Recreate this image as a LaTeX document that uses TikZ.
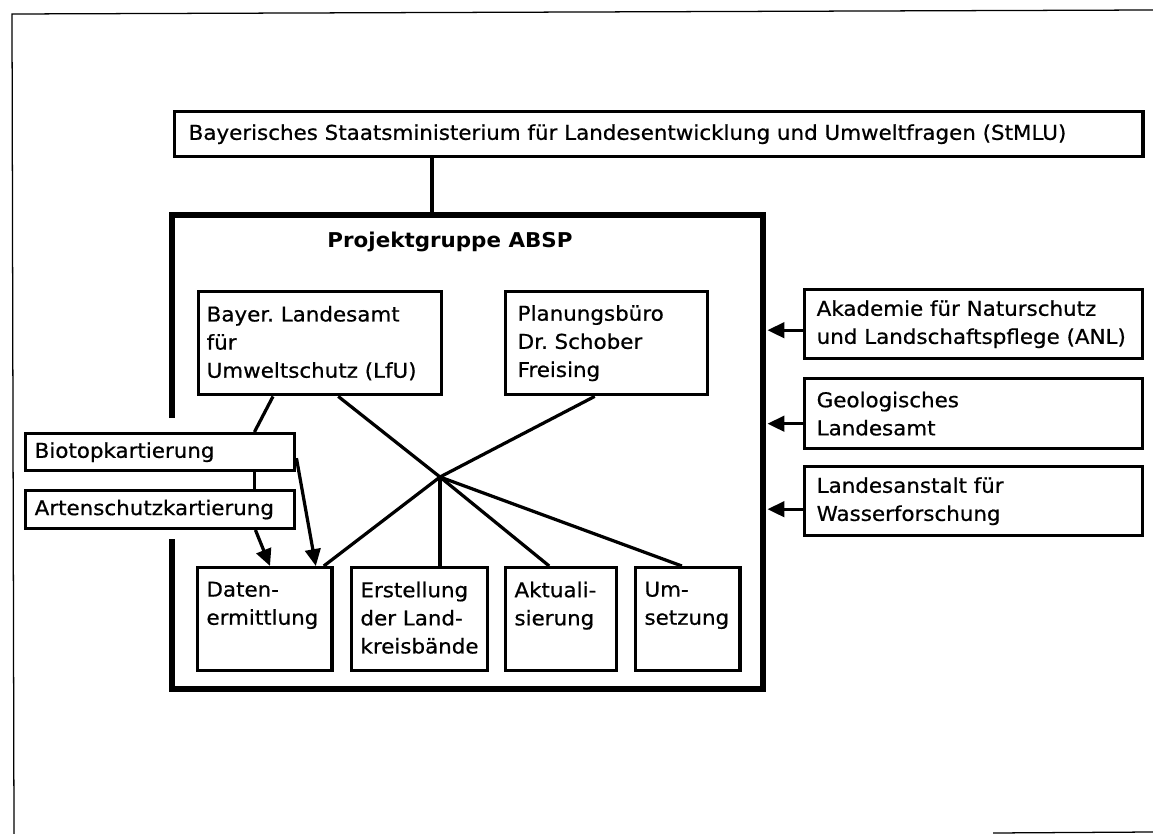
\documentclass[tikz,border=0pt]{standalone}
\usepackage{fontspec}
\setmainfont{DejaVu Sans}[FakeStretch=1.05, UprightFeatures={FakeBold=0.7}]
\usetikzlibrary{arrows.meta}
\frenchspacing
\tikzset{
  box/.style={draw, line width=2.4pt, anchor=north west, align=left, inner xsep=0.25cm, inner ysep=0pt},
  task/.style={draw, line width=2.4pt, anchor=north west, inner xsep=0.22cm, inner ysep=10pt},
  conn/.style={line width=2.3pt},
  arr/.style={line width=2.3pt, -{Triangle[length=12pt,width=11pt]}},
  heavy/.style={line width=4.2pt},
  frame/.style={line width=0.9pt}
}
\newcommand{\tasktext}[2]{\parbox[t][53pt][t]{#1}{#2}}
\begin{document}
\begin{tikzpicture}[x=0.025cm,y=-0.025cm,font=\fontsize{14.5}{20}\selectfont]
  \useasboundingbox (0,0) rectangle (1153,834);
  % page frame
  \draw[frame] (1153,10) -- (12,14) -- (14,834);
  \draw[frame] (993,833) -- (1153,832);

  \node[box, inner xsep=0.35cm, text width=23.5cm, minimum height=1.125cm] (stmlu) at (173,110)
    {Bayerisches Staatsministerium für Landesentwicklung und Umweltfragen (StMLU)};

  % Projektgruppe
  \node[anchor=north west, inner sep=0pt, minimum width=14.75cm, minimum height=11.825cm] (grp) at (172,215) {};
  \draw[heavy] (grp.west |- 0,418) -- (grp.north west) -- (grp.north east) -- (grp.south east) -- (grp.south west) -- (grp.west |- 0,539);
  \node[anchor=base, font=\fontsize{14.5}{20}\selectfont\bfseries] (ttl) at (450,248) {Projektgruppe ABSP};

  \node[box, inner xsep=0.2cm, text width=5.675cm, minimum height=2.575cm] (lfu) at (197,290)
    {Bayer. Landesamt\\für\\Umweltschutz (LfU)};
  \node[box, inner xsep=0.3cm, text width=4.45cm, minimum height=2.575cm] (plan) at (504,290)
    {Planungsbüro\\Dr. Schober\\Freising};

  \node[task] (daten) at (196,566) {\tasktext{2.92cm}{Daten-\\ermittlung}};
  \node[task] (erst) at (350,566) {\tasktext{2.96cm}{Erstellung\\der Land-\\kreisbände}};
  \node[task] (akt) at (504,566) {\tasktext{2.335cm}{Aktuali-\\sierung}};
  \node[task] (um) at (634,566) {\tasktext{2.17cm}{Um-\\setzung}};

  \node[box, inner xsep=0.225cm, text width=6.275cm, minimum height=0.925cm] (bio) at (24,432) {Biotopkartierung};
  \node[box, inner xsep=0.225cm, text width=6.275cm, minimum height=0.94cm] (art) at (24,489) {Artenschutzkartierung};

  \node[box, inner xsep=0.3cm, text width=7.85cm, minimum height=1.725cm] (anl) at (803,288)
    {Akademie für Naturschutz\\und Landschaftspflege (ANL)};
  \node[box, inner xsep=0.3cm, text width=7.85cm, minimum height=1.75cm] (geo) at (803,377)
    {Geologisches\\Landesamt};
  \node[box, inner xsep=0.3cm, text width=7.85cm, minimum height=1.725cm] (was) at (803,465)
    {Landesanstalt für\\Wasserforschung};

  \coordinate (lnk) at (432,0);
  \coordinate (hub) at (440,477);

  \draw[conn] (stmlu.south -| lnk) -- (grp.north -| lnk);
  \draw[conn] ([xshift=0.45cm]lfu.south) -- (hub);
  \draw[conn] ([xshift=-0.3cm]plan.south) -- (hub) -- ([xshift=-0.25cm]daten.north east);
  \draw[conn] (hub) -- (hub |- erst.north);
  \draw[conn] (hub) -- ([xshift=-0.3cm]akt.north);
  \draw[conn] (hub) -- ([xshift=-0.15cm]um.north);

  \draw[conn] ([xshift=1.9cm]lfu.south west) -- ([xshift=-1.05cm]bio.north east);
  \draw[conn] ([xshift=-1.05cm]bio.south east) -- ([xshift=-1.05cm]art.north east);
  \draw[arr] ([yshift=-0.15cm]bio.east) -- ([xshift=-0.45cm]daten.north east);
  \draw[arr] ([xshift=-1.025cm]art.south east) -- ([xshift=1.85cm]daten.north west);

  % Zuarbeit von rechts
  \draw[arr, shorten >=0.12cm] ([yshift=-0.15cm]anl.west) -- ([yshift=-0.15cm]anl.west -| grp.east);
  \draw[arr, shorten >=0.12cm] ([yshift=-0.25cm]geo.west) -- ([yshift=-0.25cm]geo.west -| grp.east);
  \draw[arr, shorten >=0.12cm] ([yshift=-0.2cm]was.west) -- ([yshift=-0.2cm]was.west -| grp.east);
\end{tikzpicture}
\end{document}
